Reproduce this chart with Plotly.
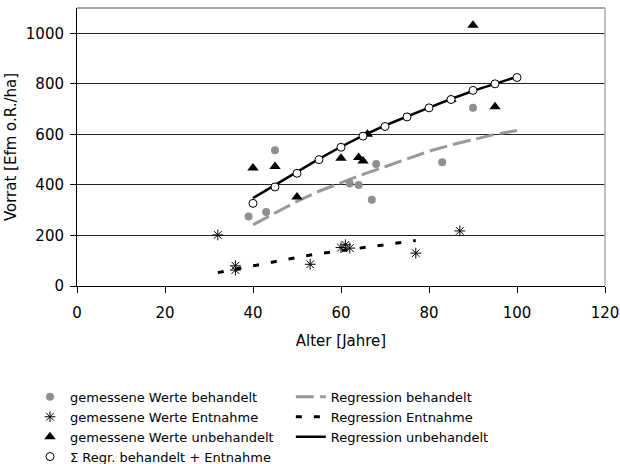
import plotly.graph_objects as go

# measured values
beh_x = [39, 43, 45, 62, 64, 67, 68, 83, 90]
beh_y = [275, 293, 537, 406, 400, 341, 483, 490, 705]

ent_x = [32, 36, 36, 53, 60, 61, 62, 77, 87]
ent_y = [202, 80, 63, 86, 152, 163, 150, 130, 218]

unb_x = [40, 45, 50, 60, 64, 65, 66, 85, 90, 95]
unb_y = [467, 473, 352, 505, 508, 495, 600, 738, 1032, 709]

sum_x = [40, 45, 50, 55, 60, 65, 70, 75, 80, 85, 90, 95, 100]
sum_y = [327, 392, 446, 500, 549, 593, 631, 669, 705, 738, 774, 800, 825]

# regression curves
rb_x = [40, 45, 50, 55, 60, 65, 70, 75, 80, 85, 90, 95, 100]
rb_y = [242, 290, 335, 375, 410, 442, 472, 502, 533, 558, 580, 600, 615]

re_x = [32, 35, 40, 45, 50, 55, 60, 65, 70, 75, 77]
re_y = [53, 63, 82, 97, 113, 128, 140, 152, 164, 175, 180]

ru_x = [40, 45, 50, 55, 60, 65, 70, 75, 80, 85, 90, 95, 100]
ru_y = [348, 400, 452, 503, 551, 595, 635, 672, 706, 740, 772, 800, 828]

x_ticks = [0, 20, 40, 60, 80, 100, 120]
y_ticks = [0, 200, 400, 600, 800, 1000]

FONT = "DejaVu Sans"
GRAY = "#8f8f8f"

fig = go.Figure()

# regression lines (legend 2)
fig.add_trace(go.Scatter(x=rb_x, y=rb_y, mode="lines", name="Regression behandelt",
                         line=dict(color="#999999", width=3, dash="18px,6px"),
                         legend="legend2"))
fig.add_trace(go.Scatter(x=re_x, y=re_y, mode="lines", name="Regression Entnahme",
                         line=dict(color="black", width=3, dash="6px,12px"),
                         legend="legend2"))
fig.add_trace(go.Scatter(x=ru_x, y=ru_y, mode="lines", name="Regression unbehandelt",
                         line=dict(color="black", width=2.5),
                         legend="legend2"))

# measured points (legend 1)
fig.add_trace(go.Scatter(x=beh_x, y=beh_y, mode="markers", name="gemessene Werte behandelt",
                         marker=dict(symbol="circle", size=8, color=GRAY)))
fig.add_trace(go.Scatter(x=ent_x, y=ent_y, mode="markers", name="gemessene Werte Entnahme",
                         marker=dict(symbol="asterisk-open", size=9, color="black",
                                     line=dict(color="black", width=1))))
fig.add_trace(go.Scatter(x=unb_x, y=unb_y, mode="markers", name="gemessene Werte unbehandelt",
                         marker=dict(symbol="triangle-up", size=10, color="black")))
fig.add_trace(go.Scatter(x=sum_x, y=sum_y, mode="markers", name="Σ Regr. behandelt + Entnahme",
                         marker=dict(symbol="circle", size=8, color="white",
                                     line=dict(color="black", width=1))))

axis_common = dict(showline=True, linecolor="black", linewidth=1,
                   ticks="outside", ticklen=6, tickcolor="black",
                   tickfont=dict(family=FONT, size=15, color="black"),
                   zeroline=False)

fig.update_xaxes(range=[0, 120], tickvals=x_ticks, showgrid=False,
                 ticklabelstandoff=7,
                 title=dict(text="Alter [Jahre]", font=dict(family=FONT, size=15, color="black"),
                            standoff=14),
                 mirror=False, **axis_common)
fig.update_yaxes(range=[0, 1100], tickvals=y_ticks, showgrid=True, gridcolor="#222222",
                 gridwidth=1, ticklabelstandoff=3,
                 title=dict(text="Vorrat [Efm o.R./ha]", font=dict(family=FONT, size=15, color="black"),
                            standoff=5),
                 **axis_common)

# top and right border of plot area (gray)
fig.add_shape(type="line", xref="paper", yref="paper", x0=0, x1=1, y0=1, y1=1,
              line=dict(color="#888888", width=1.5))
fig.add_shape(type="line", xref="paper", yref="paper", x0=1, x1=1, y0=0, y1=1,
              line=dict(color="#aaaaaa", width=1.5))

fig.update_layout(
    width=620, height=464,
    margin=dict(l=77, r=15, t=8, b=178, autoexpand=False),
    paper_bgcolor="white", plot_bgcolor="white",
    font=dict(family=FONT, size=13, color="black"),
    legend=dict(x=-0.089, y=-0.345, xanchor="left", yanchor="top",
                font=dict(family=FONT, size=13, color="black"),
                bgcolor="rgba(0,0,0,0)", tracegroupgap=0, itemwidth=30),
    legend2=dict(x=0.405, y=-0.345, xanchor="left", yanchor="top",
                 font=dict(family=FONT, size=13, color="black"),
                 bgcolor="rgba(0,0,0,0)", tracegroupgap=0, itemwidth=30),
)

fig.write_html("out.html")
